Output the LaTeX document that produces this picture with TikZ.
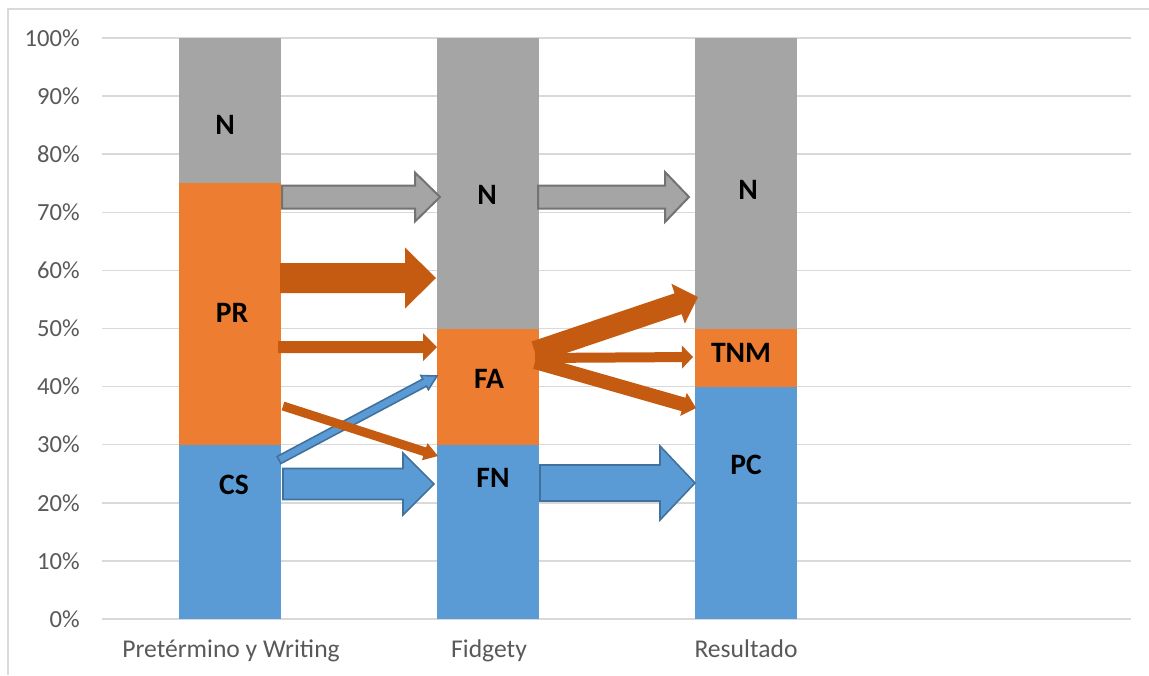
\documentclass[tikz,border=0pt]{standalone}
\usepackage{fontspec}
\setmainfont{Carlito}
\usetikzlibrary{calc}

\definecolor{barblue}{HTML}{5B9BD5}
\definecolor{barorange}{HTML}{ED7D31}
\definecolor{bargray}{HTML}{A5A5A5}
\definecolor{flowor}{HTML}{C55A11}
\definecolor{blueline}{HTML}{41719C}
\definecolor{grayline}{HTML}{737373}
\definecolor{gridgray}{HTML}{D9D9D9}
\definecolor{axistext}{HTML}{595959}

\tikzset{
	grid line/.style={draw=gridgray, line width=0.75pt},
	tick label/.style={text=axistext, font=\fontsize{12.3}{13}\selectfont, inner sep=0pt},
	cat label/.style={text=axistext, font=\fontsize{12.8}{13}\selectfont, inner sep=0pt, anchor=base},
	seg label/.style={font=\bfseries\fontsize{14.8}{15}\selectfont, text=black, inner sep=0pt},
	grayflow/.style={fill=bargray, draw=grayline, line width=1pt, line join=miter},
	orflow/.style={fill=flowor, draw=none},
	blueflow/.style={fill=barblue, draw=blueline, line width=0.8pt, line join=miter}
}

% block arrow: style, tail, tip, half body, half head, head length
\newcommand{\flowarrow}[6]{%
	\coordinate (hb) at ($(#3)!#6!(#2)$);
	\filldraw[#1] ($(#2)!#4!90:(#3)$) -- ($(hb)!#4!90:(#3)$) -- ($(hb)!#5!90:(#3)$) -- (#3)
		-- ($(hb)!#5!-90:(#3)$) -- ($(hb)!#4!-90:(#3)$) -- ($(#2)!#4!-90:(#3)$) -- cycle;
}

\begin{document}
\begin{tikzpicture}[x=0.5pt, y=-0.5pt]
	\useasboundingbox (0,0) rectangle (1149,675);
	\draw[draw=gridgray, line width=0.75pt] (8,675) -- (8,9) -- (1149,9);

	% grid and axis %
	\foreach \v in {0,10,...,100} {
		\draw[grid line] (102,619-5.81*\v) -- (1131,619-5.81*\v);
		\node[tick label, anchor=east] (t\v) at (80,619-5.81*\v) {\v\%};
	}

	% bars %
	\fill[barblue] (179,619) rectangle (281,444.7);
	\fill[barorange] (179,444.7) rectangle (281,183.25);
	\fill[bargray] (179,183.25) rectangle (281,38);
	\fill[barblue] (437,619) rectangle (539,444.7);
	\fill[barorange] (437,444.7) rectangle (539,328.5);
	\fill[bargray] (437,328.5) rectangle (539,38);
	\fill[barblue] (695,619) rectangle (797,386.6);
	\fill[barorange] (695,386.6) rectangle (797,328.5);
	\fill[bargray] (695,328.5) rectangle (797,38);

	% category labels %
	\node[cat label] (c1) at (231,657.5) {Pretérmino y Writing};
	\node[cat label] (c2) at (489,657.5) {Fidgety};
	\node[cat label] (c3) at (746,657.5) {Resultado};

	% nodes %
	\node[seg label] (n1) at (225,125) {N};
	\node[seg label] (pr) at (232,313) {PR};
	\node[seg label] (cs) at (234,485) {CS};
	\node[seg label] (n2) at (487,195) {N};
	\node[seg label] (fa) at (489,379) {FA};
	\node[seg label] (fn) at (493,478) {FN};
	\node[seg label] (n3) at (748,190) {N};
	\node[seg label] (tnm) at (741,353) {TNM};
	\node[seg label] (pc) at (746,465) {PC};

	% arrow ends %
	\coordinate (n1out) at (282,197);  \coordinate (n2in) at (440,197);
	\coordinate (prout) at (280,278);  \coordinate (n2inb) at (436,278);
	\coordinate (prmid) at (278,347);  \coordinate (fain) at (437,347);
	\coordinate (csup) at (279,460);   \coordinate (fainb) at (437,376);
	\coordinate (prlow) at (283,406);  \coordinate (fnin) at (438,456);
	\coordinate (csout) at (283,484);  \coordinate (fninb) at (434,484);
	\coordinate (n2out) at (538,197);  \coordinate (n3in) at (689,197);
	\coordinate (faout) at (535,352);  \coordinate (n3inb) at (698,297);
	\coordinate (faoutb) at (535,358); \coordinate (tnmin) at (693,357);
	\coordinate (faoutc) at (535,362); \coordinate (pcin) at (696,408);
	\coordinate (fnout) at (540,483);  \coordinate (pcinb) at (695,483);

	% edges %
	\flowarrow{grayflow}{n1out}{n2in}{5.75pt}{12.25pt}{12.5pt}
	\flowarrow{orflow}{prout}{n2inb}{7.5pt}{15.25pt}{15.5pt}
	\flowarrow{orflow}{prmid}{fain}{3pt}{7pt}{7pt}
	\flowarrow{blueflow}{csup}{fainb}{2pt}{4pt}{7pt}
	\flowarrow{orflow}{prlow}{fnin}{2.25pt}{4.5pt}{7pt}
	\flowarrow{blueflow}{csout}{fninb}{7.75pt}{15.5pt}{15.5pt}
	\flowarrow{grayflow}{n2out}{n3in}{5.75pt}{12.5pt}{12pt}
	\flowarrow{orflow}{faout}{n3inb}{5.5pt}{10.5pt}{10.5pt}
	\flowarrow{orflow}{faoutb}{tnmin}{2.5pt}{5.75pt}{5.5pt}
	\flowarrow{orflow}{faoutc}{pcin}{3.5pt}{6pt}{6.5pt}
	\flowarrow{blueflow}{fnout}{pcinb}{9pt}{18.5pt}{17.5pt}
\end{tikzpicture}
\end{document}
